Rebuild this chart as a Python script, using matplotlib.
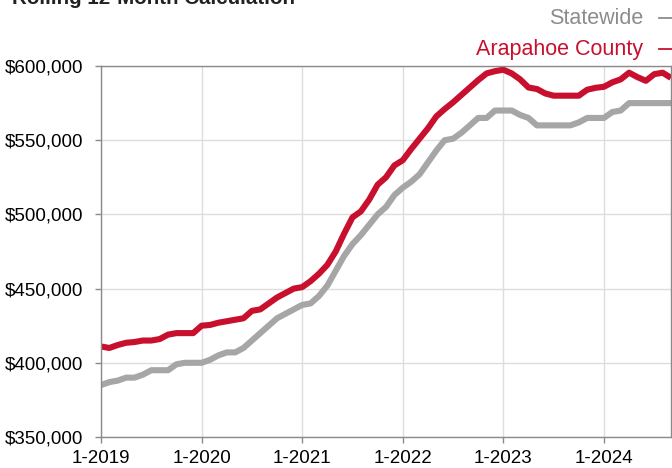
import numpy as np
import matplotlib
matplotlib.use("Agg")
import matplotlib.pyplot as plt
from matplotlib.lines import Line2D

# Monthly median sales price, Jan 2019 - Sep 2024 (thousands of dollars)
statewide = [385, 387, 388, 390, 390, 392, 395, 395, 395, 399, 400, 400,
             400, 402, 405, 407, 407, 410, 415, 420, 425, 430, 433, 436,
             439, 440, 445, 452, 462, 472, 480, 486, 493, 500, 505, 513,
             518, 522, 527, 535, 543, 550, 551, 555, 560, 565, 565, 570,
             570, 570, 567, 565, 560, 560, 560, 560, 560, 562, 565, 565,
             565, 569, 570, 575, 575, 575, 575, 575, 575]
arapahoe = [411, 410, 412, 413.5, 414, 415, 415, 416, 419, 420, 420, 420,
            425, 425.5, 427, 428, 429, 430, 435, 436, 440, 444, 447, 450,
            451, 455, 460, 466, 475, 487, 498, 502, 510, 520, 525, 533,
            536.5, 544, 551, 558, 566, 571, 575.5, 580.5, 585.5, 590.5, 595, 596.5,
            597.5, 595, 591, 585.5, 584.5, 581.5, 580, 580, 580, 580, 584, 585.3,
            586, 589, 591, 595.5, 592.5, 590, 594.5, 595.5, 592]
tick_months = [0, 12, 24, 36, 48, 60]
tick_labels = ["1-2019", "1-2020", "1-2021", "1-2022", "1-2023", "1-2024"]
y_ticks = [350000, 400000, 450000, 500000, 550000, 600000]

RED = "#C8102E"
GRAY = "#A6A6A6"

plt.rcParams["font.family"] = ["Liberation Sans", "DejaVu Sans"]

months = np.arange(len(statewide))

fig = plt.figure(figsize=(6.72, 4.68), dpi=100)
ax = fig.add_axes([101 / 672, 1 - 437 / 468, 570 / 672, 371 / 468])

ax.plot(months, np.array(statewide) * 1000, color=GRAY, lw=4.4,
        solid_joinstyle="round", solid_capstyle="butt")
ax.plot(months, np.array(arapahoe) * 1000, color=RED, lw=4.4,
        solid_joinstyle="round", solid_capstyle="butt")

ax.set_xlim(0, len(statewide) - 1)
ax.set_ylim(350000, 600000)
ax.set_xticks(tick_months)
ax.set_xticklabels(tick_labels)
ax.set_yticks(y_ticks)
ax.set_yticklabels(["${:,.0f}".format(v) for v in y_ticks])

ax.grid(True, color="#DDDDDD", lw=1)
ax.set_axisbelow(True)
for s in ax.spines.values():
    s.set_color("#8A8A8A")
    s.set_linewidth(1)
ax.tick_params(axis="y", length=4.5, width=1, color="#8A8A8A",
               labelsize=13.5, pad=8)
ax.tick_params(axis="x", length=4.5, width=1, color="#8A8A8A",
               labelsize=13.5, pad=5)

# title, cut off at the top as in the source image
fig.text(12 / 672, 1 - 3.5 / 468, "Rolling 12-Month Calculation", fontsize=14.8,
         fontweight="bold", color="#222222", ha="left", va="baseline")

# legend entries at the top right
fig.text(643 / 672, 1 - 18 / 468, "Statewide", fontsize=15.5, color="#8C8C8C",
         ha="right", va="center")
fig.text(643 / 672, 1 - 49 / 468, "Arapahoe County", fontsize=15.5, color=RED,
         ha="right", va="center")
fig.add_artist(Line2D([659 / 672, 1.0], [1 - 18 / 468] * 2, color="#8C8C8C",
                      lw=1.3, transform=fig.transFigure))
fig.add_artist(Line2D([659 / 672, 1.0], [1 - 49 / 468] * 2, color=RED,
                      lw=1.3, transform=fig.transFigure))

fig.savefig("out.png", dpi=100)
plt.close()
